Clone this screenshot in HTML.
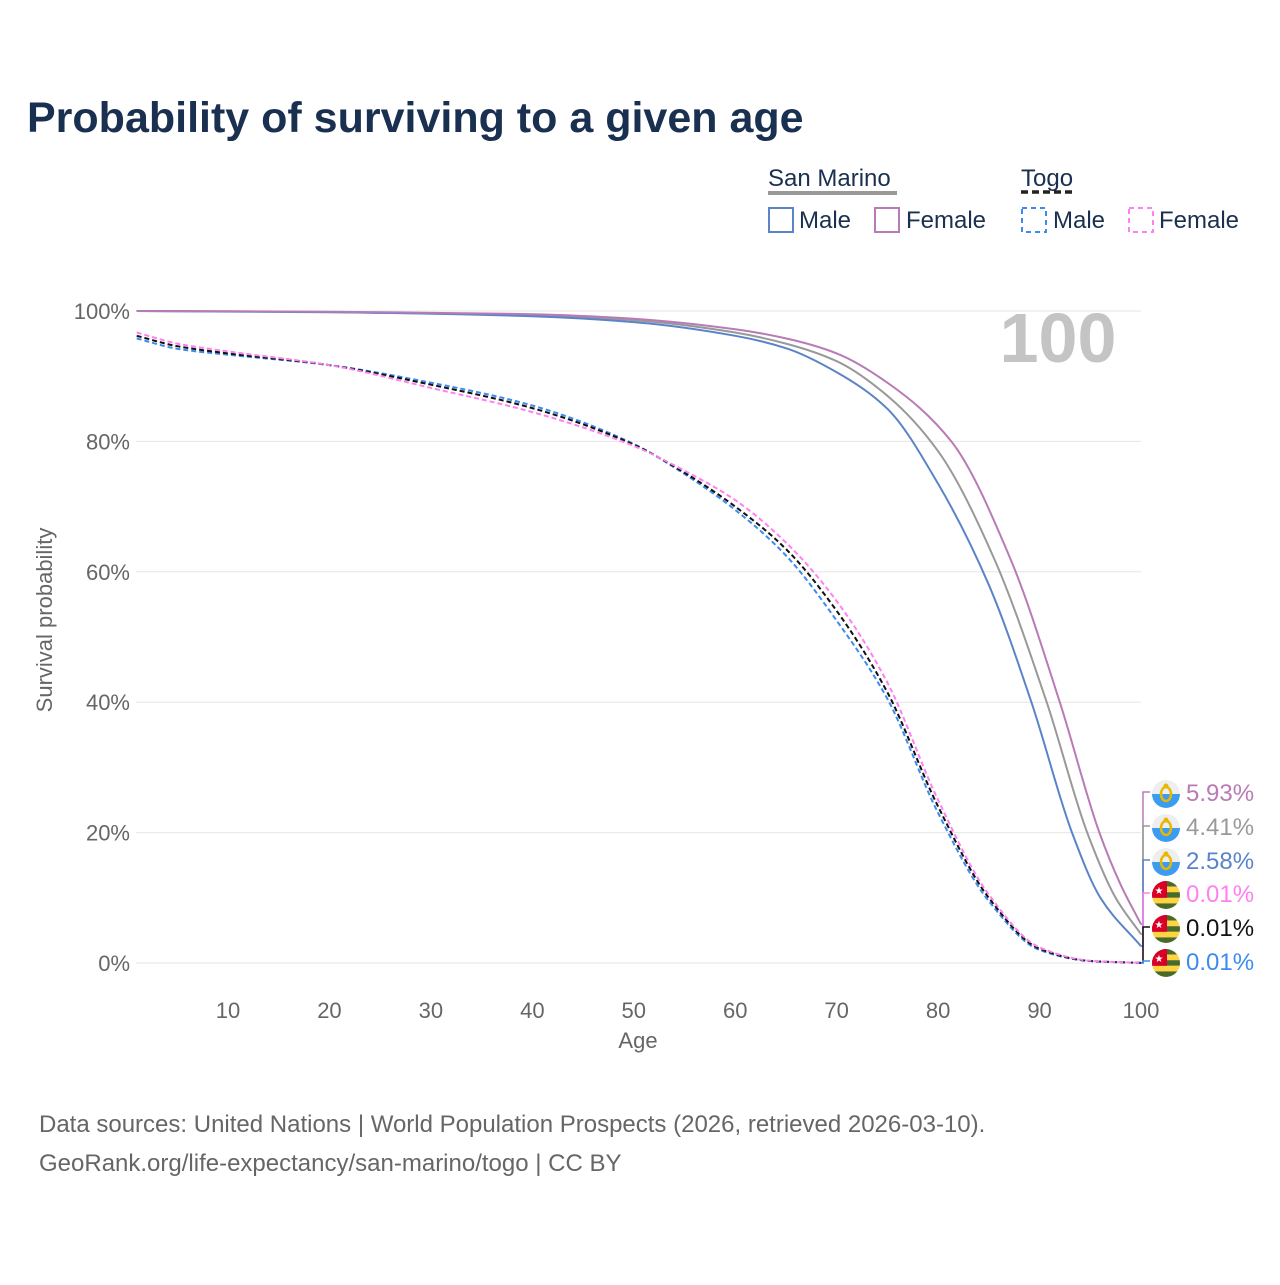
<!DOCTYPE html>
<html><head><meta charset="utf-8">
<style>
body{margin:0;background:#fff;font-family:"Liberation Sans",sans-serif;}
svg text{font-family:"Liberation Sans",sans-serif;}
</style></head>
<body>
<svg id="chart" width="1280" height="1280" xmlns="http://www.w3.org/2000/svg">
<text x="27" y="132" font-size="43" font-weight="bold" fill="#1a3050">Probability of surviving to a given age</text>
<g>
<text x="768" y="186" font-size="24" fill="#1a3050">San Marino</text>
<line x1="768" y1="193" x2="897" y2="193" stroke="#999" stroke-width="4"/>
<text x="1021" y="186" font-size="24" fill="#1a3050">Togo</text>
<line x1="1021" y1="192" x2="1076" y2="192" stroke="#222" stroke-width="3.5" stroke-dasharray="7,4"/>
<rect x="769" y="208" width="24" height="24" fill="none" stroke="#5b84c8" stroke-width="2"/>
<text x="799" y="228" font-size="24" fill="#1a3050">Male</text>
<rect x="875" y="208" width="24" height="24" fill="none" stroke="#b87bb5" stroke-width="2"/>
<text x="906" y="228" font-size="24" fill="#1a3050">Female</text>
<rect x="1022" y="208" width="24" height="24" fill="none" stroke="#3c8cf0" stroke-width="2" stroke-dasharray="5,4"/>
<text x="1053" y="228" font-size="24" fill="#1a3050">Male</text>
<rect x="1129" y="208" width="24" height="24" fill="none" stroke="#ff80f0" stroke-width="2" stroke-dasharray="5,4"/>
<text x="1159" y="228" font-size="24" fill="#1a3050">Female</text>
</g>
<g id="grid"></g>
<text x="1058" y="362" font-size="70" font-weight="bold" fill="#c4c4c4" text-anchor="middle">100</text>
<g id="lines"></g>
<g id="labels"></g>
<text x="52" y="620" font-size="22" fill="#666" text-anchor="middle" transform="rotate(-90 52 620)">Survival probability</text>
<text x="638" y="1048" font-size="22" fill="#666" text-anchor="middle">Age</text>
<text x="39" y="1132" font-size="24" fill="#666">Data sources: United Nations | World Population Prospects (2026, retrieved 2026-03-10).</text>
<text x="39" y="1171" font-size="24" fill="#666">GeoRank.org/life-expectancy/san-marino/togo | CC BY</text>
</svg>
<script>
const xTicks=[10,20,30,40,50,60,70,80,90,100];
const yTicks=[0,20,40,60,80,100];
const smMaleAges=[1,20,40,50,60,65,70,75,80,85,89.2,93.2,96,100];
const smMaleVals=[100,99.8,99.2,98.3,96.2,94.3,90.6,85,73.5,58,40,20,10,2.58];
const smFemaleAges=[1,20,40,50,60,65,70,75,81.3,87.1,92,95.9,98,100];
const smFemaleVals=[100,99.9,99.5,98.8,97.2,95.8,93.5,89,80,62.1,40,20,12,5.93];
const smTotalAges=[1,20,40,50,60,65,70,75,80,85.5,90.7,94.7,97.5,100];
const smTotalVals=[100,99.85,99.35,98.6,96.7,95,92.3,87,78.5,62.1,40,20,10,4.41];
const tgAges=[1,5,10,20,30,40,50,55,60,65,70,75,80,85,90,95,100];
const tgMaleVals=[95.8,94.2,93.3,91.7,89,85.5,79.6,75,69.5,62.5,52.5,40.5,23,9.5,2.0,0.3,0.01];
const tgTotalVals=[96.2,94.6,93.5,91.7,88.7,85.1,79.5,75.2,70,63.5,54,41.5,24,10,2.2,0.3,0.01];
const tgFemaleVals=[96.7,95,93.8,91.7,88.2,84.5,79.3,75.5,71,64.5,55.5,43,25,10.5,2.4,0.35,0.01];
const endLabels=["5.93%","4.41%","2.58%","0.01%","0.01%","0.01%"];

const NS="http://www.w3.org/2000/svg";
const X=a=>228+(a-10)*(1141-228)/90;
const Y=v=>963-v*(963-311)/100;
function mk(t,at,parent){const e=document.createElementNS(NS,t);for(const k in at)e.setAttribute(k,at[k]);parent.appendChild(e);return e;}
const grid=document.getElementById('grid');
yTicks.forEach(v=>{
 const l=mk('line',{x1:136,x2:1141,y1:Y(v),y2:Y(v),stroke:'#e6e6e6','stroke-width':1},grid);
 
 
 const t=mk('text',{x:130,y:Y(v)+8,'font-size':22,fill:'#666','text-anchor':'end'},grid);
 t.textContent=v+'%';
 
 
});
xTicks.forEach(a=>{
 const t=mk('text',{x:X(a),y:1018,'font-size':22,fill:'#666','text-anchor':'middle'},grid);
 t.textContent=a;
 
 
});
function monoPath(xs,ys){
 const n=xs.length,dx=[],m=[],t=[];
 for(let i=0;i<n-1;i++){dx.push(xs[i+1]-xs[i]);m.push((ys[i+1]-ys[i])/dx[i]);}
 t[0]=m[0];t[n-1]=m[n-2];
 for(let i=1;i<n-1;i++){t[i]=(m[i-1]*m[i]<=0)?0:(3*(dx[i-1]+dx[i]))/((2*dx[i]+dx[i-1])/m[i-1]+(dx[i]+2*dx[i-1])/m[i]);}
 let d='M'+xs[0].toFixed(1)+','+ys[0].toFixed(1);
 for(let i=0;i<n-1;i++){
  const h=dx[i]/3;
  d+=' C'+(xs[i]+h).toFixed(1)+','+(ys[i]+t[i]*h).toFixed(1)+' '+(xs[i+1]-h).toFixed(1)+','+(ys[i+1]-t[i+1]*h).toFixed(1)+' '+xs[i+1].toFixed(1)+','+ys[i+1].toFixed(1);
 }
 return d;
}
const lines=document.getElementById('lines');
function draw(ages,vals,color,dash,name){
 const d=monoPath(ages.map(X),vals.map(Y));
 const p=mk('path',{d:d,fill:'none',stroke:color,'stroke-width':2,'stroke-linejoin':'round'},lines);
 if(dash){p.setAttribute('stroke-dasharray','5,3');}
 
 
}
draw(tgAges,tgMaleVals,'#3c8cf0',true,'togo-male-line');
draw(tgAges,tgTotalVals,'#111',true,'togo-total-line');
draw(tgAges,tgFemaleVals,'#ff80f0',true,'togo-female-line');
draw(smTotalAges,smTotalVals,'#999',false,'san-marino-total-line');
draw(smMaleAges,smMaleVals,'#5b84c8',false,'san-marino-male-line');
draw(smFemaleAges,smFemaleVals,'#b87bb5',false,'san-marino-female-line');

const lab=document.getElementById('labels');
const colors=['#b87bb5','#999','#5b84c8','#ff80f0','#111','#3c8cf0'];
const ends=[smFemaleVals[smFemaleVals.length-1],smTotalVals[smTotalVals.length-1],smMaleVals[smMaleVals.length-1],tgFemaleVals[tgFemaleVals.length-1],tgTotalVals[tgTotalVals.length-1],tgMaleVals[tgMaleVals.length-1]];
const ly=[792,826,860,893,927,961];
ends.forEach((v,i)=>{
 const c=colors[i];
 const b=mk('path',{d:`M1141,${Y(v)} L1143,${Y(v)} L1143,${ly[i]} L1150,${ly[i]}`,fill:'none',stroke:c,'stroke-width':1.5},lab);
 
 
 const g=mk('g',{},lab);
 
 
 const cx=1166,cy=ly[i]+2,r=14;
 const cid='c'+i;
 const cp=mk('clipPath',{id:cid},g);mk('circle',{cx:cx,cy:cy,r:r},cp);
 const h=mk('g',{'clip-path':`url(#${cid})`},g);
 if(i<3){
  mk('rect',{x:cx-r,y:cy-r,width:2*r,height:r,fill:'#eeeeee'},h);
  mk('rect',{x:cx-r,y:cy,width:2*r,height:r,fill:'#3c9cf0'},h);
  mk('ellipse',{cx:cx,cy:cy,rx:5,ry:7,fill:'none',stroke:'#e8b800','stroke-width':2.5},h);
  mk('circle',{cx:cx,cy:cy-8,r:2.5,fill:'#e8b800'},h);
 }else{
  for(let k=0;k<5;k++)mk('rect',{x:cx-r,y:cy-r+k*5.6,width:2*r,height:5.6,fill:k%2?'#ffd440':'#4a6b28'},h);
  mk('rect',{x:cx-r,y:cy-r,width:15,height:16.8,fill:'#d80027'},h);
  const t=mk('text',{x:cx-7,y:cy-1,'font-size':10,fill:'#fff','text-anchor':'middle'},h);t.textContent='★';
 }
 const t=mk('text',{x:1186,y:ly[i]+9,'font-size':24,fill:c},lab);
 t.textContent=endLabels[i];
 
 
});
</script>
</body></html>
